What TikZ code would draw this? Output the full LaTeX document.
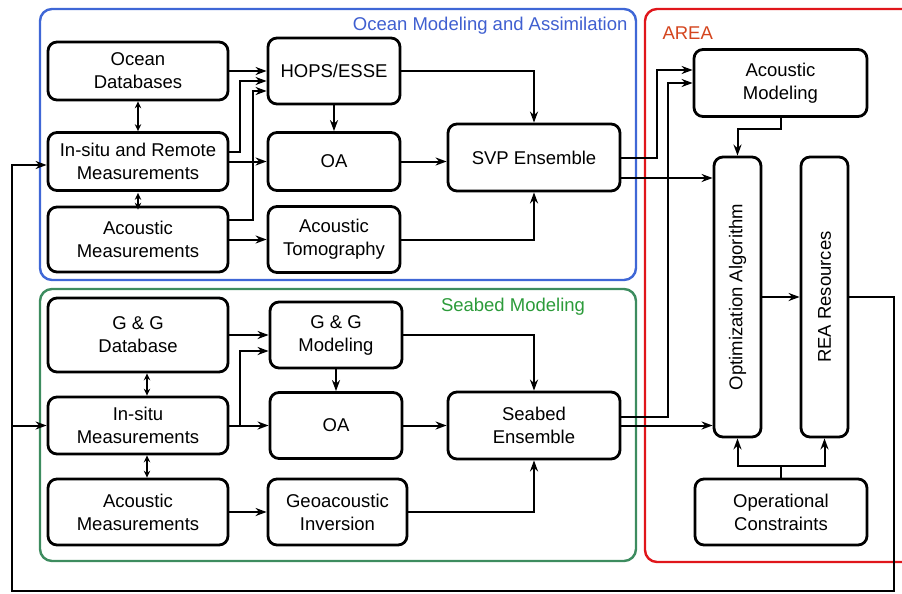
\documentclass[tikz,border=0pt]{standalone}
\usepackage{fontspec}
\setmainfont{Liberation Sans}
\usetikzlibrary{arrows.meta,positioning}
\definecolor{oceanblue}{HTML}{3F67D6}
\definecolor{oceanlabel}{HTML}{3F5FD0}
\definecolor{seabedgreen}{HTML}{3D8C5F}
\definecolor{seabedlabel}{HTML}{2C9B3A}
\definecolor{areared}{HTML}{E0161B}
\definecolor{arealabel}{HTML}{D4451E}
\tikzset{
  block/.style={draw,rounded corners=9pt,align=center,line width=2.8pt,fill=white,inner sep=1pt},
  wide/.style={block,minimum width=180pt,minimum height=58pt},
  mid/.style={block,minimum width=132pt,minimum height=66pt},
  ens/.style={block,minimum width=172pt,minimum height=67pt},
  tall/.style={block,minimum width=47pt,minimum height=280pt},
  group/.style={rounded corners=12pt,line width=2.4pt},
  edge/.style={-{Stealth[length=11pt,width=8pt,inset=3.5pt]},line width=2pt},
  twoway/.style={{Stealth[length=7pt,width=6.5pt,inset=2.5pt]}-{Stealth[length=7pt,width=6.5pt,inset=2.5pt]},line width=2pt}
}

\begin{document}
\begin{tikzpicture}[x=1pt,y=-1pt,font=\fontsize{18.5}{23}\selectfont]
  \useasboundingbox (0,0) rectangle (902,594);

  % the three groups
  \draw[group,draw=oceanblue] (40,9) rectangle (636,280);
  \draw[group,draw=seabedgreen] (40,289) rectangle (636,561);
  \draw[group,draw=areared] (645,9) rectangle (922,562);
  \node[text=oceanlabel,anchor=east] (oceanlbl) at (631,26) {Ocean Modeling and Assimilation};
  \node[text=seabedlabel] (seabedlbl) at (513,307) {Seabed Modeling};
  \node[text=arealabel,anchor=west] (arealbl) at (659,33) {AREA};

  % ocean modeling
  \node[wide] (oceandb) at (138,71) {Ocean\\Databases};
  \node[wide] (insitu) at (138,161.5) {In-situ and Remote\\Measurements};
  \node[wide,minimum height=65pt] (acmeas) at (138,239.5) {Acoustic\\Measurements};
  \node[mid] (hops) at (334,71) {HOPS/ESSE};
  \node[mid,minimum height=58pt] (oa) at (334,161.5) {OA};
  \node[mid] (tomo) at (334,239.5) {Acoustic\\Tomography};
  \node[ens] (svp) at (534,157.5) {SVP Ensemble};

  % seabed modeling
  \node[wide,minimum height=74pt] (ggdb) at (138,335) {G \& G\\Database};
  \node[wide,minimum height=57pt] (ggins) at (138,425.5) {In-situ\\Measurements};
  \node[wide,minimum height=66pt] (ggacm) at (138,512) {Acoustic\\Measurements};
  \node[mid] (ggmod) at (336,335) {G \& G\\Modeling};
  \node[mid] (oab) at (336,425.5) {OA};
  \node[mid,minimum width=139pt] (geoinv) at (337.5,512) {Geoacoustic\\Inversion};
  \node[ens] (seabed) at (534,425.5) {Seabed\\Ensemble};

  % AREA
  \node[ens,minimum width=173pt] (acmod) at (780.5,83) {Acoustic\\Modeling};
  \node[tall] (optim) at (737.5,297) {\rotatebox{90}{Optimization Algorithm}};
  \node[tall] (rea) at (824.5,297) {\rotatebox{90}{REA Resources}};
  \node[ens,minimum width=172pt,minimum height=66pt] (opcon) at (781,512) {Operational\\Constraints};

  \coordinate (loopR) at (894,591);
  \coordinate (loopL) at (12,591);

  \draw[twoway] (oceandb) -- (insitu);
  \draw[twoway] ([yshift=-1pt]insitu.south) -- ([yshift=-4pt]acmeas.north);
  \draw[edge] (oceandb) -- (hops);
  \draw[edge] ([yshift=10pt]insitu.east) -- ++(11,0) |- ([yshift=-10pt]hops.west);
  \draw[edge] ([yshift=19.5pt]acmeas.east) -- ++(24,0) |- ([yshift=-20pt]hops.west);
  \draw[edge] (insitu) -- (oa);
  \draw[edge] (acmeas) -- (tomo);
  \draw[edge] (hops) -- (oa);
  \draw[edge] (hops) -| (svp);
  \draw[edge] (oa.east) -- (oa.east -| svp.west);
  \draw[edge] (tomo) -| (svp);

  \draw[twoway] ([xshift=9pt]ggdb.south) -- ([xshift=9pt]ggins.north);
  \draw[twoway] ([xshift=9pt]ggins.south) -- ([xshift=9pt]ggacm.north);
  \draw[edge] (ggdb) -- (ggmod);
  \draw[edge] (ggins.east) -- ++(11,0) |- ([yshift=-16pt]ggmod.west);
  \draw[edge] (ggins) -- (oab);
  \draw[edge] (ggacm) -- (geoinv);
  \draw[edge] (ggmod) -- (oab);
  \draw[edge] (ggmod) -| (seabed);
  \draw[edge] (oab) -- (seabed);
  \draw[edge] (geoinv) -| (seabed);

  \draw[edge] (svp.east) -- ++(36,0) |- ([yshift=13pt]acmod.west);
  \draw[edge] ([yshift=-20.5pt]svp.east) -- ([yshift=119pt]optim.west);
  \draw[edge] ([yshift=8.5pt]seabed.east) -- ++(47,0) |- (acmod.west);
  \draw[edge] (seabed) -- (seabed -| optim.west);
  \draw[edge] (acmod.south) -- ++(0,11) -| (optim.north);
  \draw[edge] (optim) -- (rea);
  \draw[edge] (opcon.north) -- ++(0,-12) -| (optim.south);
  \draw[edge] (opcon.north) -- ++(0,-12) -| (rea.south);
  \draw[edge] (rea.east) -| (loopR) -- (loopL) |- (ggins.west);
  \draw[edge] (loopL) |- ([yshift=-3.5pt]insitu.west);
\end{tikzpicture}
\end{document}
